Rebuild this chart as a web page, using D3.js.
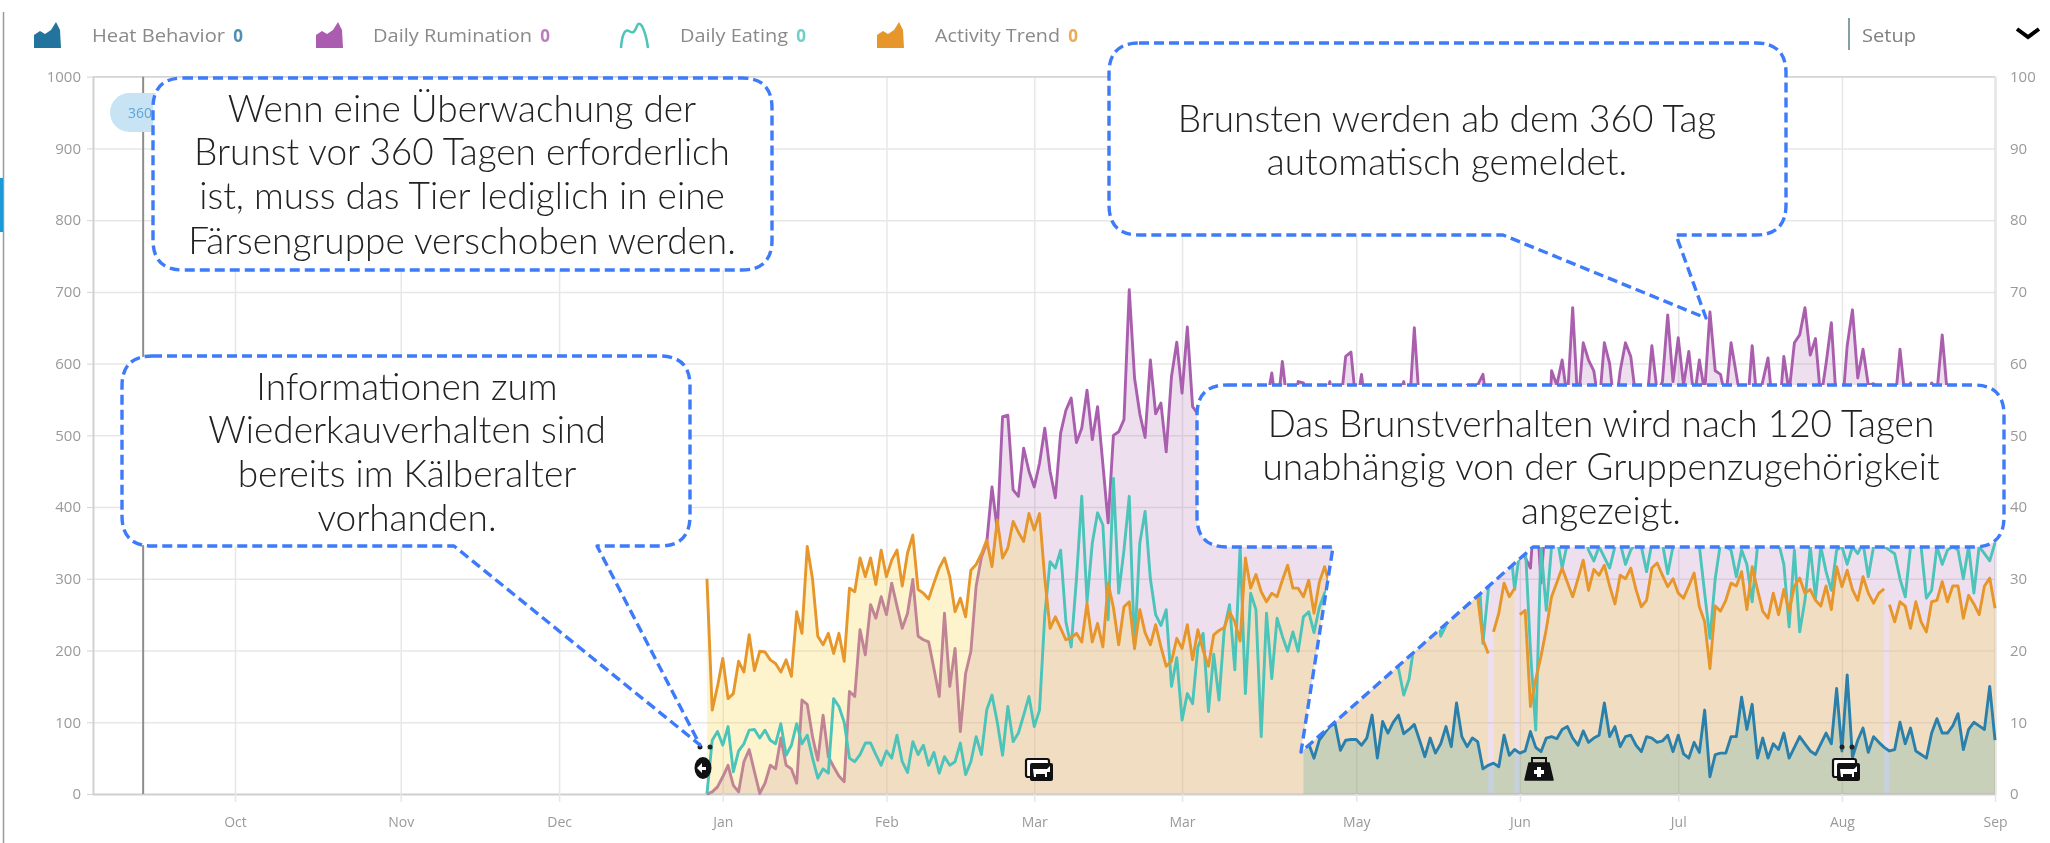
<!DOCTYPE html>
<html><head><meta charset="utf-8">
<script src="https://cdnjs.cloudflare.com/ajax/libs/d3/7.8.5/d3.min.js"></script>
<style>
html,body{margin:0;padding:0;background:#fff;overflow:hidden}
svg{display:block;filter:blur(0.7px)}
text{font-family:"Open Sans",sans-serif}
.callout text{font-family:Lato,sans-serif;font-weight:300;fill:#222;text-anchor:middle}
</style></head><body><svg id="c" width="2050" height="843"></svg>
<script>
// Day numbers count from the first day with data.
const leftTicks=[0,100,200,300,400,500,600,700,800,900,1000];
const rightTicks=[0,10,20,30,40,50,60,70,80,90,100];
const monthLabels=["Oct","Nov","Dec","Jan","Feb","Mar","Mar","May","Jun","Jul","Aug","Sep"];
const monthDays=[-89.4,-58,-28,3,34,62,90,123,154,184,215,244];
const markerDay=-106.8;

const legendNames=["Heat Behavior","Daily Rumination","Daily Eating","Activity Trend"];
const legendCounts=[0,0,0,0];

const rumination=[
0,3,10,24,40,12,3,45,62,31,
1,15,40,35,78,40,35,15,131,125,
80,47,110,52,38,25,17,143,136,229,
194,264,245,275,250,294,262,231,252,299,
220,215,212,175,136,252,150,203,87,168,
199,290,330,350,428,368,526,528,424,415,
482,450,428,461,510,450,413,503,535,552,
490,510,563,494,540,460,378,500,505,522,
703,580,530,497,605,530,545,477,582,630,
559,651,540,530,520,500,540,510,530,520,
505,540,515,530,500,525,545,587,530,603,
540,520,575,573,530,510,545,550,575,520,
540,610,616,540,585,520,500,530,515,545,
525,550,575,530,650,540,520,505,530,545,
520,510,535,550,570,530,570,585,530,510,
480,450,420,380,350,330,315,420,294,400,
590,570,605,550,678,540,629,605,590,540,
629,600,530,590,629,610,550,520,540,625,
560,575,668,575,636,570,617,550,605,560,
672,590,585,550,629,585,540,530,625,540,
575,608,530,520,610,560,629,640,678,612,
635,550,600,657,540,530,625,675,580,620,
570,572,560,530,520,540,620,550,573,540,
520,545,573,560,640,555,520,540,510,530,
545,520,530,510,520];

const activityA=[
300,117,150,189,133,140,185,170,222,172,
199,198,187,182,170,187,164,254,224,345,
300,220,208,224,196,224,185,287,282,329,
303,329,292,340,303,326,340,290,336,361,
285,280,272,294,315,329,303,254,273,247,
312,320,335,354,317,382,329,343,380,365,
352,391,368,391,300,231,247,231,215,218,
224,212,266,212,238,205,294,260,208,261,
268,203,257,225,208,236,205,178,185,217,
203,236,187,229,200,178,222,228,232,254,
240,213,329,287,306,282,268,280,275,298,
319,287,287,275,298,252,295,317,290,
300,280,295,310,290,275,300,285,295,305,
280,290,300,270,285,310,295,280,290,300,
285,270,295,305,285,300,290,
275,215,196];
const activityB=[226,252,294,275,287];
const activityC=[
250,256,122,160,192,230,
275,295,315,295,275,300,326,284,313,305,
319,290,265,305,300,315,285,261,270,315,
322,305,289,300,280,273,290,308,261,240,
175,262,255,270,294,290,310,257,317,285,
255,245,280,250,285,255,290,301,280,285,
270,262,290,257,317,289,312,285,270,303,
280,266,280,286];
const activityD=[264,240,268,262,231,268,240,226,268,270,296,268,290,290,245,277,265,250,290,301,259];
const activityStarts=[0,149,154,224];

const eating=[
0,75,87,68,94,31,60,70,89,90,
78,89,75,70,98,54,68,98,70,82,
50,22,35,29,133,122,100,50,45,55,
71,71,55,40,60,50,82,45,30,73,
55,68,40,58,29,52,40,45,71,27,
45,80,55,117,138,100,54,122,73,85,
110,136,94,117,250,324,315,340,240,205,
300,415,268,350,392,375,243,440,280,340,
415,203,350,394,300,250,235,257,150,190,
103,140,126,205,224,115,195,131,230,264,
173,345,140,280,257,80,252,161,245,220,
199,226,199,247,254,225,260,280,290,300,
270,300,285,310,290,300,320,280,300,270,
240,175,138,160,210,270,300,320,290,220,
235,300,320,340,330,350,340,210,284,350,
360,340,360,285,340,350,200,89,345,256,
345,360,315,350,355,345,370,340,325,345,
330,315,345,350,320,340,350,345,310,350,
345,350,307,345,360,360,350,355,345,280,
217,300,350,345,340,303,340,320,268,345,
360,350,345,350,320,233,340,226,270,345,
273,345,310,284,340,345,320,345,335,350,
303,345,350,345,340,335,300,275,345,350,
345,273,284,345,320,340,345,340,300,345,
280,345,335,325,350];

const heatStart=113;
const heat=[
70,70,50,75,85,95,98,
61,75,76,76,68,78,110,50,101,85,
100,110,84,90,97,75,52,78,57,70,
94,66,127,80,66,78,73,35,40,43,
38,82,54,62,57,60,87,65,59,78,
80,77,90,94,78,68,88,72,78,82,
127,80,94,66,80,82,68,59,80,78,
72,74,82,59,82,56,50,72,58,117,
24,55,57,57,80,80,135,90,125,50,
78,50,70,62,85,50,65,80,70,60,
55,70,85,70,147,60,166,51,75,92,
58,80,72,65,60,62,100,70,92,60,
55,50,85,105,85,85,95,112,62,90,
100,95,90,150,75];

const notes=[
 ["Wenn eine Überwachung der","Brunst vor 360 Tagen erforderlich","ist, muss das Tier lediglich in eine","Färsengruppe verschoben werden."],
 ["Brunsten werden ab dem 360 Tag","automatisch gemeldet."],
 ["Informationen zum","Wiederkauverhalten sind","bereits im Kälberalter","vorhanden."],
 ["Das Brunstverhalten wird nach 120 Tagen","unabhängig von der Gruppenzugehörigkeit","angezeigt."]];

const svg=d3.select("#c");
const L=93,R=1995,T=76.7,B=794;
const x=d3.scaleLinear().domain([-116.3,244]).range([L,R]);
const yL=d3.scaleLinear().domain([0,1000]).range([B,T]);
const yR=d3.scaleLinear().domain([0,100]).range([B,T]);

// page furniture
svg.append("line").attr("x1",3.5).attr("x2",3.5).attr("y1",12).attr("y2",843).attr("stroke","#9a9a9a").attr("stroke-width",1.5);
svg.append("rect").attr("x",0).attr("y",178).attr("width",3).attr("height",54).attr("fill","#1a9ad6");

// axes
const gridCol="#e7e7e7",labCol="#9a9a9a";
const gl=svg.append("g").attr("transform",`translate(${L},0)`)
 .call(d3.axisLeft(yL).tickValues(leftTicks).tickSize(-(R-L)).tickPadding(12).tickFormat(d3.format("d")));
const gr=svg.append("g").attr("transform",`translate(${R},0)`)
 .call(d3.axisRight(yR).tickValues(rightTicks).tickSize(0).tickPadding(15).tickFormat(d3.format("d")));
const gb=svg.append("g").attr("transform",`translate(0,${B})`)
 .call(d3.axisBottom(x).tickValues(monthDays).tickSize(-(B-T)).tickPadding(23).tickFormat((d,i)=>monthLabels[i]));
gb.selectAll(".tick").append("line").attr("y1",0).attr("y2",8).attr("stroke","#d0d0d0").attr("stroke-width",1.2);
[gl,gr,gb].forEach(g=>{
  g.select(".domain").attr("stroke","#cfcfcf").attr("stroke-width",1.5);
  g.selectAll(".tick line").attr("stroke",gridCol).attr("stroke-width",1.5);
  g.selectAll("text").attr("font-size",14).attr("fill",labCol).attr("font-family",'"Open Sans"');
});
gl.selectAll(".tick").append("line").attr("x1",-6).attr("x2",0).attr("stroke","#d5d5d5");
gl.selectAll("text").attr("font-size",15);
gr.selectAll("text").attr("font-size",15);
svg.append("line").attr("x1",L).attr("x2",R).attr("y1",T).attr("y2",T).attr("stroke","#d5d5d5").attr("stroke-width",1.5);

// age marker
svg.append("line").attr("x1",x(markerDay)).attr("x2",x(markerDay)).attr("y1",T).attr("y2",B).attr("stroke","#8d8d8d").attr("stroke-width",2);
svg.append("rect").attr("x",110).attr("y",93).attr("width",70).attr("height",39).attr("rx",19.5).attr("fill","#c8e4f4");
svg.append("text").attr("x",128).attr("y",118).attr("font-size",14).attr("fill","#5ea5d8").text("360");

// series
const seq=(vals,start)=>vals.map((v,i)=>({d:start+i,v}));
const area=d3.area().x(p=>x(p.d)).y0(B).y1(p=>yL(p.v));
const line=d3.line().x(p=>x(p.d)).y(p=>yL(p.v));
function draw(pts,fill,stroke){
  if(fill)svg.append("path").attr("d",area(pts)).attr("fill",fill).attr("stroke","none");
  svg.append("path").attr("d",line(pts)).attr("fill","none").attr("stroke",stroke).attr("stroke-width",2.9).attr("stroke-linejoin","round");
}
const cPurple="#a95fae",cOrange="#e6962a",cTeal="#4cc4ba",cBlue="#2a80aa";
draw(seq(rumination,0),"rgba(170,95,175,0.2)",cPurple);
// activity: fill first, with the rumination line seen through it
const actSegs=[activityA,activityB,activityC,activityD];
actSegs.forEach((s,i)=>{
  svg.append("path").attr("d",area(seq(s,activityStarts[i]))).attr("fill","rgba(250,220,90,0.3)");
});
draw(seq(eating,0),null,cTeal);
actSegs.forEach((s,i)=>draw(seq(s,activityStarts[i]),null,cOrange));
draw(seq(heat,heatStart),"rgba(40,150,150,0.2)",cBlue);

// event icons
function barn(cx,cy){
  const g=svg.append("g").attr("transform",`translate(${cx},${cy})`);
  g.append("rect").attr("x",-13).attr("y",-11).attr("width",23).attr("height",18).attr("rx",2).attr("fill","#fff").attr("stroke","#111").attr("stroke-width",2.2);
  g.append("rect").attr("x",-9).attr("y",-7).attr("width",23).attr("height",18).attr("rx",2).attr("fill","#111");
  g.append("path").attr("d","M-6 -1H8L11 -4V2L8 2V7H6V4H-3V7H-5Z").attr("fill","#fff");
}
barn(1039,770);barn(1846,770);
const bag=svg.append("g").attr("transform","translate(1539,770)");
bag.append("path").attr("d","M-7 -6V-12H7V-6").attr("fill","none").attr("stroke","#111").attr("stroke-width",2);
bag.append("path").attr("d","M-10 -7H10L14 10H-14Z").attr("fill","#111").attr("stroke","#111").attr("stroke-width",1.5).attr("stroke-linejoin","round");
bag.append("path").attr("d","M-2 -3H2V0H5V4H2V7H-2V4H-5V0H-2Z").attr("fill","#fff");
const play=svg.append("g").attr("transform","translate(703,768)");
play.append("ellipse").attr("rx",8.5).attr("ry",11).attr("fill","#111");
play.append("path").attr("d","M3 -1H-1V-5L-6 0L-1 5V2H3Z").attr("fill","#fff");
[[700,747],[710,747],[1842,747],[1852,747]].forEach(p=>svg.append("circle").attr("cx",p[0]).attr("cy",p[1]).attr("r",2.5).attr("fill","#222"));

// legend
const legendX=[34,316,620,877],legendText=[92,373,680,935],legendEnd=[225,532,788,1060],legendCol=["#23739f","#ab5cb0","#4cc4ba","#e6962a"];
const legendZero=[238,545,801,1073];
legendNames.forEach((n,i)=>{
  const g=svg.append("g").attr("transform",`translate(${legendX[i]},22)`);
  if(i===2) g.append("path").attr("d","M1 26C2 12 5 7 9 9C12 11 14 12 17 4C18 1 20 1 22 4C25 10 27 18 28 26").attr("fill","none").attr("stroke",legendCol[i]).attr("stroke-width",2.5);
  else g.append("path").attr("d","M0 26V13L6 9L11 12L17 8L22 0L26 8L27 26Z").attr("fill",legendCol[i]);
  svg.append("text").attr("x",legendText[i]).attr("y",42).attr("font-size",18).attr("fill","#8a8a8a").attr("textLength",legendEnd[i]-legendText[i]).attr("lengthAdjust","spacingAndGlyphs").text(n);
  svg.append("text").attr("x",legendZero[i]).attr("y",42).attr("font-size",17).attr("font-weight",700).attr("text-anchor","middle").attr("fill",legendCol[i]).attr("opacity",0.8).text(legendCounts[i]);
});
svg.append("line").attr("x1",1849).attr("x2",1849).attr("y1",18).attr("y2",50).attr("stroke","#5b7f8a").attr("stroke-width",1.5);
svg.append("text").attr("x",1862).attr("y",42).attr("font-size",19).attr("fill","#808080").attr("textLength",54).attr("lengthAdjust","spacingAndGlyphs").text("Setup");
svg.append("path").attr("d","M2017 29L2028 37L2039 29").attr("fill","none").attr("stroke","#000").attr("stroke-width",4);

// callouts
function bubble(x0,y0,x1,y1,r,tail){
  let p=`M${x0+r} ${y0}H${x1-r}Q${x1} ${y0} ${x1} ${y0+r}V${y1-r}Q${x1} ${y1} ${x1-r} ${y1}`;
  if(tail) p+=`H${tail[2]}L${tail[0]} ${tail[1]}L${tail[3]} ${y1}`;
  p+=`H${x0+r}Q${x0} ${y1} ${x0} ${y1-r}V${y0+r}Q${x0} ${y0} ${x0+r} ${y0}Z`;
  return p;
}
const boxes=[
 {b:[153,78,772,270],t:null,cx:462,y:[110,153,197,242],fs:37},
 {b:[1109,43,1786,235],t:[1706,318,1676,1503],cx:1447,y:[120,163],fs:37},
 {b:[122,356,690,546],t:[700,745,597,454],cx:407,y:[388,431,475,519],fs:37},
 {b:[1197,385,2004,547],t:[1301,752,1533,1333],cx:1601,y:[425,468,512],fs:37}
];
boxes.forEach((o,i)=>{
  const g=svg.append("g").attr("class","callout");
  g.append("path").attr("d",bubble(...o.b,30,o.t)).attr("fill","#fff").attr("stroke","#3d7bfa").attr("stroke-width",3.4).attr("stroke-dasharray","10 5").attr("stroke-linejoin","round");
  notes[i].forEach((t,j)=>g.append("text").attr("x",o.cx).attr("y",o.y[j]+12).attr("font-size",o.fs).text(t));
});
</script></body></html>
